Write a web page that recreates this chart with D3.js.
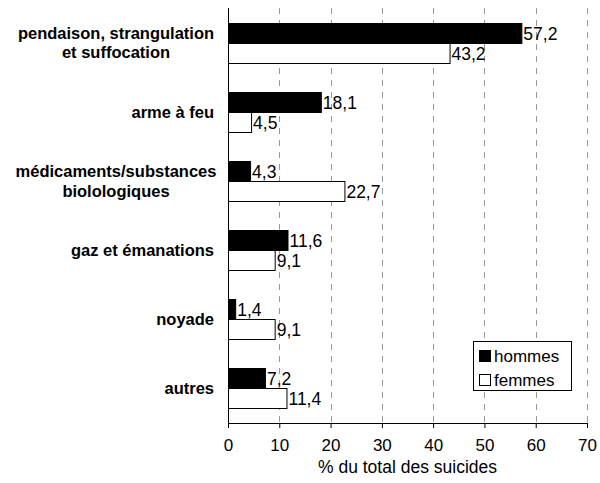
<!DOCTYPE html>
<html>
<head>
<meta charset="utf-8">
<script src="https://cdn.jsdelivr.net/npm/d3@7"></script>
<style>
  body { margin: 0; background: #fff; }
  text { font-family: "Liberation Sans", Arial, sans-serif; }
</style>
</head>
<body>
<div id="main"></div>
<script>
const categories = [
  ["pendaison, strangulation", "et suffocation"],
  ["arme à feu"],
  ["médicaments/substances", "biolologiques"],
  ["gaz et émanations"],
  ["noyade"],
  ["autres"]
];
const hommes = [57.2, 18.1, 4.3, 11.6, 1.4, 7.2];
const femmes = [43.2, 4.5, 22.7, 9.1, 9.1, 11.4];
const seriesNames = ["hommes", "femmes"];
const seriesColors = ["#000", "#fff"];
const xTicks = [0, 10, 20, 30, 40, 50, 60, 70];

const width = 600, height = 483;
const mLeft = 228, mRight = 587, mTop = 8, mBottom = 423;

const svg = d3.select("#main").append("svg")
  .attr("width", width).attr("height", height);

const x = d3.scaleLinear().domain([0, 70]).range([mLeft, mRight]);
const y = d3.scaleBand().domain(d3.range(categories.length)).range([mTop, mBottom]);
const barH = 20;

// grid
svg.append("g").selectAll("line")
  .data(xTicks.slice(1))
  .enter().append("line")
  .attr("x1", d => Math.round(x(d)) + 0.5).attr("x2", d => Math.round(x(d)) + 0.5)
  .attr("y1", mTop).attr("y2", mBottom)
  .attr("stroke", "#999").attr("stroke-width", 1)
  .attr("stroke-dasharray", "6,6");

const fmt = v => v.toFixed(1).replace(".", ",");

[hommes, femmes].forEach((vals, s) => {
  const g = svg.append("g");
  const by = i => Math.round(y(i) + y.bandwidth() / 2 - barH + s * barH) + 0.5;
  g.selectAll("rect").data(vals).enter().append("rect")
    .attr("x", x(0) + 0.5)
    .attr("y", (d, i) => by(i))
    .attr("width", d => x(d) - x(0))
    .attr("height", barH)
    .attr("fill", seriesColors[s])
    .attr("stroke", "#000").attr("stroke-width", 1);
  g.selectAll("text").data(vals).enter().append("text")
    .attr("x", d => x(d) + 2)
    .attr("y", (d, i) => by(i) + barH - 4)
    .attr("font-size", 17.5)
    .text(d => fmt(d));
});

// x axis
const xAxis = d3.axisBottom(x).tickValues(xTicks).tickSize(5).tickSizeOuter(0).tickPadding(8)
  .tickFormat(d => d);
const gx = svg.append("g").attr("transform", `translate(0,${mBottom})`).call(xAxis);
gx.attr("font-size", null).attr("font-family", null);
gx.select(".domain").attr("stroke", "#000");
gx.selectAll("text").attr("font-size", 17).attr("fill", "#000").attr("dy", "0.9em");

// y axis line
svg.append("line").attr("x1", mLeft + 0.5).attr("x2", mLeft + 0.5).attr("y1", mTop).attr("y2", mBottom)
  .attr("stroke", "#000");

// category labels
categories.forEach((lines, i) => {
  const cy = y(i) + y.bandwidth() / 2;
  const n = lines.length;
  const t = svg.append("text")
    .attr("text-anchor", n > 1 ? "middle" : "end")
    .attr("font-size", 16.5).attr("font-weight", "bold");
  lines.forEach((ln, j) => {
    t.append("tspan")
      .attr("x", n > 1 ? 116 : 214)
      .attr("y", cy + 6 + (j - (n - 1) / 2) * 19.5)
      .text(ln);
  });
});

// axis title
svg.append("text").attr("x", (mLeft + mRight) / 2).attr("y", 473)
  .attr("text-anchor", "middle").attr("font-size", 17.5)
  .text("% du total des suicides");

// legend
const lg = svg.append("g");
lg.append("rect").attr("x", 473.5).attr("y", 341.5).attr("width", 98).attr("height", 49)
  .attr("fill", "#fff").attr("stroke", "#000");
seriesNames.forEach((n, i) => {
  lg.append("rect").attr("x", 479.5).attr("y", 350.5 + i * 24).attr("width", 11).attr("height", 11)
    .attr("fill", seriesColors[i]).attr("stroke", "#000");
  lg.append("text").attr("x", 494).attr("y", 362 + i * 24).attr("font-size", 17).text(n);
});
</script>
</body>
</html>
